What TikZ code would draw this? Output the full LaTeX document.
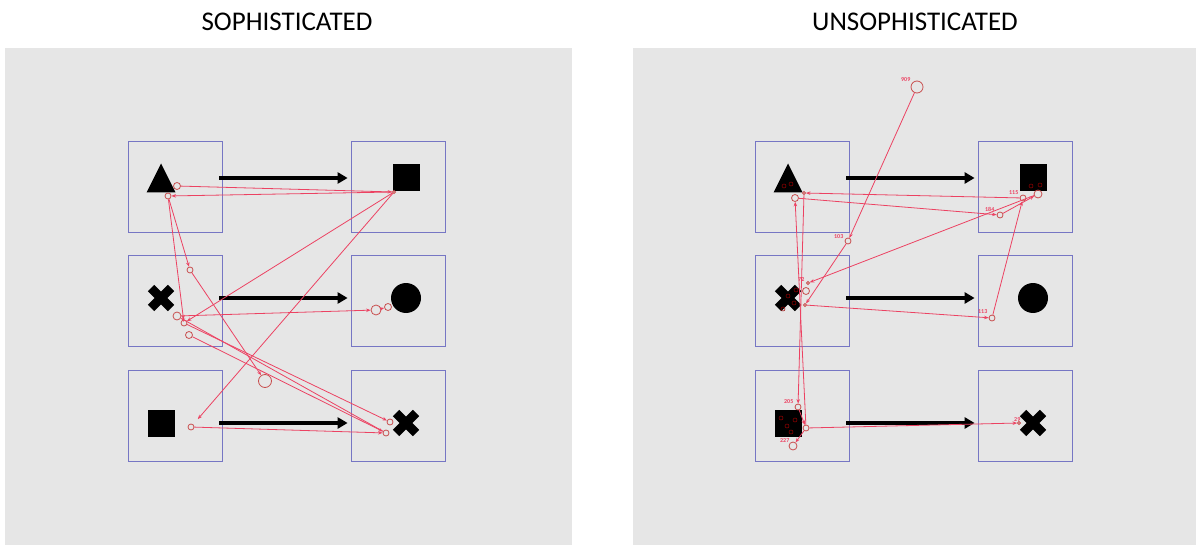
\documentclass[tikz,border=0pt]{standalone}
\usepackage{fontspec}
\setmainfont{Carlito}
\usetikzlibrary{arrows.meta}

\definecolor{panelgray}{RGB}{230,230,230}
\definecolor{aoiblue}{RGB}{118,118,196}
\definecolor{scanred}{RGB}{236,66,98}
\definecolor{fixred}{RGB}{200,78,78}

\begin{document}
\begin{tikzpicture}[x=1pt, y=-1pt,
    aoi/.style={draw=aoiblue, line width=0.8pt, minimum width=94pt, minimum height=91pt, inner sep=0pt},
    flow/.style={line width=3.2pt, -{Triangle[length=10pt,width=11pt]}},
    scan/.style={draw=scanred, line width=0.8pt, -{Stealth[length=4.5pt,width=3.5pt]}},
    fix/.style={circle, draw=fixred, line width=0.8pt, inner sep=0pt, minimum size=#1},
    fix/.default=6pt,
    num/.style={text=scanred, font=\fontsize{6}{6}\selectfont\bfseries, inner sep=0.5pt}]
    \useasboundingbox (0,0) rectangle (1196,545);

    % Panels and titles
    \fill[panelgray] (5,48) rectangle (572,545);
    \fill[panelgray] (633,48) rectangle (1196,545);
    \node[font=\fontsize{27}{27}\selectfont] (tsoph) at (287,22) {SOPHISTICATED};
    \node[font=\fontsize{27}{27}\selectfont] (tunsoph) at (915,22) {UNSOPHISTICATED};

    % Areas of interest, stimuli and the expected order
    \foreach \p/\dx in {s/0, u/627} {
        \foreach \r/\y/\o in {1/186.5/-8.5, 2/301/-3, 3/416/7} {
            \node[aoi] (\p L\r) at (175+\dx,\y) {};
            \node[aoi] (\p R\r) at (398+\dx,\y) {};
            \draw[flow] ([shift={(-3,\o)}]\p L\r.east) -- ([shift={(-3,\o)}]\p R\r.west);
        }
        \fill (161+\dx,163.5) -- (175.5+\dx,192.5) -- (146.5+\dx,192.5) -- cycle;
        \fill (392.5+\dx,164.5) rectangle (419.5+\dx,191.5);
        \draw[line width=9pt] (161+\dx,298) ++(-10,-10) -- ++(20,20) (161+\dx,298) ++(-10,10) -- ++(20,-20);
        \fill (406+\dx,298) circle (15);
        \fill (147.5+\dx,409.5) rectangle (174.5+\dx,436.5);
        \draw[line width=9pt] (406+\dx,423) ++(-10,-10) -- ++(20,20) (406+\dx,423) ++(-10,10) -- ++(20,-20);
    }

    % Sophisticated scan path
    \node[fix=7pt] (s1) at (177,186) {};
    \node[fix=3pt] (s2) at (394,192) {};
    \node[fix=6pt] (s3) at (168,196) {};
    \node[fix=6pt] (s4) at (190,270) {};
    \node[fix=13pt] (s5) at (265,381) {};
    \node[fix=8pt] (s6) at (177,316) {};
    \node[fix=6pt] (s7) at (184,323) {};
    \node[fix=7pt] (s8) at (189,335) {};
    \node[fix=10pt] (s9) at (376,310) {};
    \node[fix=7pt] (s10) at (388,307) {};
    \node[fix=6pt] (s11) at (390,422) {};
    \node[fix=6pt] (s12) at (386,433) {};
    \node[fix=6pt] (s13) at (191,427) {};
    \draw[scan] (s1) -- (s2);
    \draw[scan] (s2) -- (s3);
    \draw[scan] (s3) -- (s4);
    \draw[scan] (s4) -- (s5);
    \draw[scan] (s3) -- (s7);
    \draw[scan] (s6) -- (s9);
    \draw[scan] (s9) -- (s10);
    \draw[scan] (s2) -- (s7);
    \draw[scan, shorten >=7pt] (s2) -- (s13);
    \draw[scan] (s13) -- (s12);
    \draw[scan] (s7) -- (s11);
    \draw[scan] (s12) -- (s6);
    \draw[scan] (s8) -- (s12);

    % Unsophisticated scan path
    \node[fix=12pt] (u909) at (917,87) {};
    \node[num, anchor=south east] (l909) at (911,82) {909};
    \node[fix=6pt] (u103) at (848,241) {};
    \node[num, anchor=east] (l103) at (844,237) {103};
    \node[fix=7pt] (ut1) at (795,198) {};
    \node[fix=3pt] (ut2) at (804,193) {};
    \node[fix=6pt] (u115) at (1023,198) {};
    \node[num, anchor=east] (l115) at (1019,193) {115};
    \node[fix=8pt] (us2) at (1038,194) {};
    \node[fix=6pt] (u184) at (1000,215) {};
    \node[num, anchor=east] (l184) at (995,209) {184};
    \node[fix=3pt] (u72) at (808,283) {};
    \node[num, anchor=east] (l72) at (805,280) {72};
    \node[fix=7pt] (ux2) at (806,291) {};
    \node[fix=3pt] (ux3) at (805,305) {};
    \node[fix=6pt] (u113) at (992,318) {};
    \node[num, anchor=east] (l113) at (988,312) {113};
    \node[fix=6pt] (u205) at (798,407) {};
    \node[num, anchor=east] (l205) at (794,402) {205};
    \node[fix=6pt] (ub2) at (806,428) {};
    \node[fix=8pt] (u227) at (793,446) {};
    \node[num, anchor=east] (l227) at (790,441) {227};
    \node[fix=3pt] (u29) at (1019,423) {};
    \node[num, anchor=east] (l29) at (1021,420) {29};
    \draw[scan] (u909) -- (u103);
    \draw[scan] (u103) -- (ux3);
    \draw[scan] (u115) -- (ut2);
    \draw[scan] (ut1) -- (u184);
    \draw[scan] (u184) -- (us2);
    \draw[scan] (us2) -- (u72);
    \draw[scan] (ux3) -- (u113);
    \draw[scan] (u113) -- (u115);
    \draw[scan] (ut2) -- (u205);
    \draw[scan] (ub2) -- (ut1);
    \draw[scan] (u205) -- (ub2);
    \draw[scan] (ub2) -- (u227);
    \draw[scan] (ub2) -- (u29);

    % dense fixations on the stimuli
    \foreach \cx/\cy in {784/186, 791/184, 788/296, 794/303, 783/309, 796/290,
                         781/418, 787/426, 795/420, 791/432, 1031/186, 1040/185} {
        \draw[red!60!black, line width=0.5pt] (\cx,\cy) circle (2);
    }
\end{tikzpicture}
\end{document}
